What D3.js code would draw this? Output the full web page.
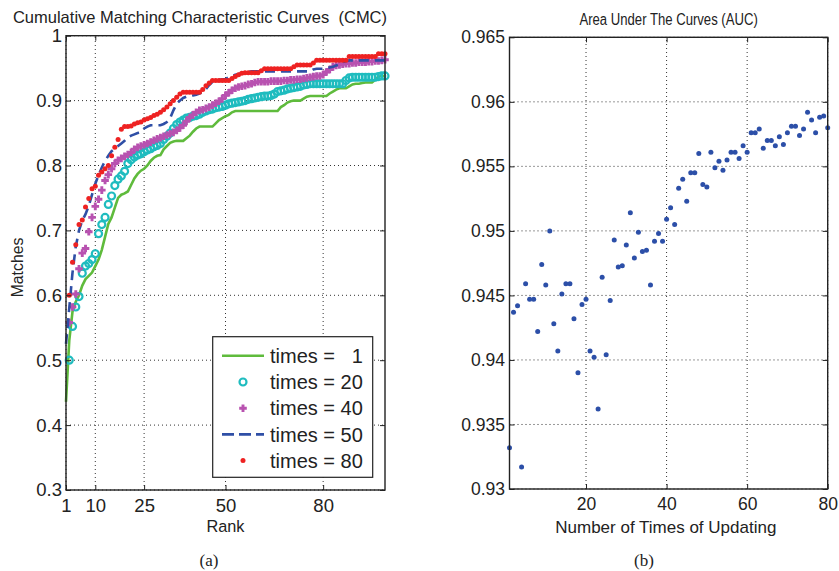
<!DOCTYPE html>
<html lang="en">
<head>
<meta charset="UTF-8">
<title>CMC and AUC</title>
<script src="https://cdn.jsdelivr.net/npm/d3@7"></script>
<style>
    body { margin: 0; background: #fff; }
    svg text { font-family: "Liberation Sans", Arial, sans-serif; fill: #222; }
    .grid line { stroke: #333; stroke-width: 1; stroke-dasharray: 1, 3; }
    .axis { color: #222; }
    .axis line { stroke-width: 1; }
    .box { fill: none; stroke: #222; stroke-width: 1.4; }
</style>
</head>
<body>
<svg id="fig" width="839" height="571"></svg>
<script>
    // ---- (a) CMC curves, one value per rank 1..99 (null = no marker) ----
    const times1 = [.436, .530, .575, .590, .600, .615, .625, .630, .635, .645,
        .655, .670, .690, .710, .720, .735, .750, .755, .757, .760,
        .770, .780, .787, .792, .795, .800, .807, .812, .815, .816,
        .825, .830, .835, .837, .838, .838, .838, .842, .846, .852,
        .857, .860, .860, .860, .860, .860, .865, .870, .873, .876,
        .878, .882, .884, .884, .884, .884, .884, .884, .884, .884,
        .884, .884, .884, .884, .884, .884, .890, .893, .897, .899,
        .900, .900, .900, .903, .906, .907, .907, .907, .907, .907,
        .907, .911, .914, .917, .919, .919, .919, .922, .925, .926,
        .926, .927, .928, .928, .928, .932, .937, .938, .938];
    const times20 = [null, .500, .552, .582, .598, .634, .645, .649, .655, .664,
        .695, .709, .720, .740, .753, .769, .779, .784, .791, .803,
        .809, .813, .816, .818, .821, .824, .826, .829, .831, .834,
        .840, .845, .850, .857, .863, .867, .870, .873, .874, .876,
        .877, .879, .882, .884, .886, .887, .889, .890, .891, .893,
        .895, .896, .897, .898, .899, .900, .902, .903, .904, .905,
        .906, .907, .907, .908, .910, .914, .915, .916, .918, .919,
        .920, .921, .922, .924, .925, .926, .926, .926, .926, .926,
        .926, .926, .926, .926, .926, .926, .931, .935, .936, .936,
        .936, .936, .936, .936, .936, .936, .937, .938, .938];
    const times40 = [null, .558, .582, .602, .641, .665, .672, .698, .720, .737,
        .748, .762, .777, .786, .795, .803, .808, .811, .814, .817,
        .820, .825, .828, .830, .832, .834, .836, .839, .841, .843,
        .845, .847, .849, .851, .854, .858, .862, .868, .874, .878,
        .882, .885, .886, .888, .890, .893, .896, .899, .903, .908,
        .912, .916, .919, .921, .922, .923, .925, .926, .928, .929,
        .929, .929, .929, .930, .930, .930, .930, .931, .931, .932,
        .932, .933, .933, .934, .935, .936, .937, .938, .938, .940,
        .944, .948, .952, .954, .955, .956, .957, .957, .958, .958,
        .959, .959, .959, .960, .960, .961, .961, .962, .963];
    const times50 = [.525, .580, .635, .675, .700, .715, .725, .738, .755, .772,
        .785, .797, .807, .815, .822, .826, .830, .834, .838, .843,
        .846, .848, .850, .851, .857, .860, .862, .862, .862, .862,
        .864, .867, .873, .885, .895, .900, .904, .906, .907, .908,
        .909, .911, .913, .918, .924, .929, .932, .932, .933, .933,
        .936, .938, .940, .941, .942, .943, .944, .945, .945, .945,
        .945, .945, .945, .945, .945, .945, .945, .945, .945, .945,
        .945, .945, .945, .945, .945, .945, .948, .949, .949, .949,
        .950, .951, .952, .954, .956, .959, .961, .962, .962, .962,
        .962, .962, .962, .962, .962, .962, .962, .962, .962];
    const times80 = [null, .600, .651, .678, .709, .716, .736, .749, .764, .768,
        .785, .790, .795, .800, .815, .828, .840, .856, .860, .860,
        .861, .864, .866, .867, .870, .872, .874, .877, .879, .882,
        .886, .890, .895, .900, .905, .910, .913, .913, .913, .913,
        .913, .913, .917, .923, .927, .931, .931, .931, .931, .931,
        .931, .934, .937, .940, .942, .943, .943, .943, .943, .943,
        .946, .949, .949, .949, .949, .949, .949, .949, .949, .949,
        .952, .955, .955, .955, .955, .955, .958, .962, .962, .962,
        .962, .962, .962, .962, .962, .962, .962, .968, .968, .968,
        .968, .968, .968, .968, .968, .968, .972, .972, .972];
    const rankTicks = [1, 10, 25, 50, 80];
    const matchTicks = [0.3, 0.4, 0.5, 0.6, 0.7, 0.8, 0.9, 1];
    const legendLabels = ['times = \u20071', 'times = 20', 'times = 40', 'times = 50', 'times = 80'];

    // ---- (b) AUC per number of updates 1..80 ----
    const auc = [.9332, .9437, .9442, .9317, .9459, .9447, .9447, .9422, .9474, .9458,
        .9500, .9428, .9407, .9451, .9459, .9459, .9432, .9390, .9443, .9447,
        .9407, .9402, .9362, .9464, .9404, .9446, .9493, .9472, .9473, .9489,
        .9514, .9479, .9499, .9484, .9485, .9458, .9492, .9498, .9492, .9509,
        .9518, .9505, .9533, .9540, .9523, .9545, .9545, .9560, .9536, .9534,
        .9561, .9549, .9554, .9547, .9555, .9561, .9561, .9556, .9566, .9561,
        .9576, .9576, .9579, .9564, .9570, .9570, .9566, .9573, .9567, .9576,
        .9581, .9581, .9574, .9579, .9592, .9586, .9576, .9588, .9589, .9580];
    const updateTicks = [20, 40, 60, 80];
    const aucTicks = [0.93, 0.935, 0.94, 0.945, 0.95, 0.955, 0.96, 0.965];

    const svg = d3.select('#fig');

    const xa = d3.scaleLinear().domain([1, 99]).range([66, 385]);
    const ya = d3.scaleLinear().domain([0.3, 1]).range([490, 35.7]);
    const xb = d3.scaleLinear().domain([1, 80]).range([509.5, 827.7]);
    const yb = d3.scaleLinear().domain([0.93, 0.965]).range([489, 37.3]);

    function grid(x, y, xt, yt) {
        const g = svg.append('g').attr('class', 'grid');
        const [l, r] = x.range(), [b, t] = y.range();
        g.selectAll('line.v').data(xt).join('line').attr('class', 'v')
            .attr('x1', d => x(d)).attr('x2', d => x(d)).attr('y1', b).attr('y2', t);
        g.selectAll('line.h').data(yt).join('line').attr('class', 'h')
            .attr('x1', l).attr('x2', r).attr('y1', d => y(d)).attr('y2', d => y(d));
    }

    function axes(x, y, xt, yt, yFmt, fs, padX, padY) {
        const [l, r] = x.range(), [b, t] = y.range();
        const tidy = a => {
            a.select('.domain').remove();
            a.attr('font-size', fs).attr('font-family', null);
        };
        svg.append('g').attr('class', 'axis').attr('transform', `translate(0,${b})`)
            .call(d3.axisBottom(x).tickValues(xt).tickFormat(d3.format('d')).tickSize(-5).tickPadding(padX))
            .call(tidy);
        svg.append('g').attr('class', 'axis').attr('transform', `translate(0,${t})`)
            .call(d3.axisTop(x).tickValues(xt).tickFormat('').tickSize(-5))
            .call(tidy);
        svg.append('g').attr('class', 'axis').attr('transform', `translate(${l},0)`)
            .call(d3.axisLeft(y).tickValues(yt).tickFormat(yFmt).tickSize(-5).tickPadding(padY))
            .call(tidy);
        svg.append('g').attr('class', 'axis').attr('transform', `translate(${r},0)`)
            .call(d3.axisRight(y).tickValues(yt).tickFormat('').tickSize(-5))
            .call(tidy);
        svg.append('rect').attr('class', 'box')
            .attr('x', l).attr('y', t).attr('width', r - l).attr('height', b - t);
    }

    const fmt = d => String(+d.toFixed(3));

    // ================= (a) =================
    grid(xa, ya, rankTicks, matchTicks);

    const lineA = d3.line().defined(d => d[1] != null).x(d => xa(d[0])).y(d => ya(d[1]));
    const pts = arr => arr.map((v, i) => [i + 1, v]);

    const green = '#5fbb3c', cyan = '#1fbcbf', purple = '#b852b0', blue = '#2f4fa6', red = '#ee2222';

    svg.append('path').attr('d', lineA(pts(times1)))
        .attr('fill', 'none').attr('stroke', green).attr('stroke-width', 2.6);

    svg.append('g').selectAll('circle').data(pts(times20).filter(d => d[1] != null)).join('circle')
        .attr('cx', d => xa(d[0])).attr('cy', d => ya(d[1])).attr('r', 3.5)
        .attr('fill', 'none').attr('stroke', cyan).attr('stroke-width', 2.2);

    const plus = 'M-3.8,0H3.8M0,-3.8V3.8';
    svg.append('g').selectAll('path').data(pts(times40).filter(d => d[1] != null)).join('path')
        .attr('transform', d => `translate(${xa(d[0])},${ya(d[1])})`).attr('d', plus)
        .attr('stroke', purple).attr('stroke-width', 2.9);

    svg.append('path').attr('d', lineA(pts(times50)))
        .attr('fill', 'none').attr('stroke', blue).attr('stroke-width', 2.6)
        .attr('stroke-dasharray', '10,6');

    svg.append('g').selectAll('circle').data(pts(times80).filter(d => d[1] != null)).join('circle')
        .attr('cx', d => xa(d[0])).attr('cy', d => ya(d[1])).attr('r', 2.5)
        .attr('fill', red);

    axes(xa, ya, rankTicks, matchTicks, fmt, 18.5, 9, 4);

    svg.append('text').attr('x', 200).attr('y', 23).attr('text-anchor', 'middle')
        .attr('font-size', 16.5).text('Cumulative Matching Characteristic Curves\u00a0\u00a0(CMC)');
    svg.append('text').attr('x', 225.5).attr('y', 532).attr('text-anchor', 'middle')
        .attr('font-size', 16.3).text('Rank');
    svg.append('text').attr('transform', 'translate(23,267.5) rotate(-90)').attr('text-anchor', 'middle')
        .attr('font-size', 15.8).text('Matches');

    // legend
    const lg = svg.append('g');
    lg.append('rect').attr('x', 212.7).attr('y', 336.7).attr('width', 160).attr('height', 140.6)
        .attr('fill', '#fff').attr('stroke', '#222').attr('stroke-width', 1.2);
    const rowY = i => 355.8 + i * 26.2;
    legendLabels.forEach((t, i) => {
        lg.append('text').attr('x', 270).attr('y', rowY(i) + 7.2).attr('font-size', 20).text(t);
    });
    lg.append('line').attr('x1', 222).attr('x2', 264).attr('y1', rowY(0)).attr('y2', rowY(0))
        .attr('stroke', green).attr('stroke-width', 2.6);
    lg.append('circle').attr('cx', 243).attr('cy', rowY(1)).attr('r', 3.5)
        .attr('fill', 'none').attr('stroke', cyan).attr('stroke-width', 2.2);
    lg.append('path').attr('transform', `translate(243,${rowY(2)})`).attr('d', plus)
        .attr('stroke', purple).attr('stroke-width', 2.9);
    lg.append('line').attr('x1', 222).attr('x2', 264).attr('y1', rowY(3)).attr('y2', rowY(3))
        .attr('stroke', blue).attr('stroke-width', 2.6).attr('stroke-dasharray', '12,5');
    lg.append('circle').attr('cx', 243).attr('cy', rowY(4)).attr('r', 2.5).attr('fill', red);

    // ================= (b) =================
    grid(xb, yb, updateTicks, aucTicks);

    svg.append('g').selectAll('circle').data(auc).join('circle')
        .attr('cx', (d, i) => xb(i + 1)).attr('cy', d => yb(d)).attr('r', 2.5)
        .attr('fill', '#2c4fa8');

    axes(xb, yb, updateTicks, aucTicks, fmt, 17.5, 9, 4.5);

    // title of (b) is horizontally condensed in the source figure
    svg.append('text').attr('transform', 'translate(668.6,25) scale(0.82,1)').attr('text-anchor', 'middle')
        .attr('font-size', 16).text('Area Under The Curves (AUC)');
    svg.append('text').attr('x', 665.8).attr('y', 533).attr('text-anchor', 'middle')
        .attr('font-size', 17).text('Number of Times of Updating');

    // sub-captions
    svg.append('text').attr('x', 209).attr('y', 566).attr('text-anchor', 'middle')
        .style('font-family', '"Liberation Serif", "Times New Roman", serif')
        .attr('font-size', 17).text('(a)');
    svg.append('text').attr('x', 644).attr('y', 566).attr('text-anchor', 'middle')
        .style('font-family', '"Liberation Serif", "Times New Roman", serif')
        .attr('font-size', 17).text('(b)');
</script>
</body>
</html>
